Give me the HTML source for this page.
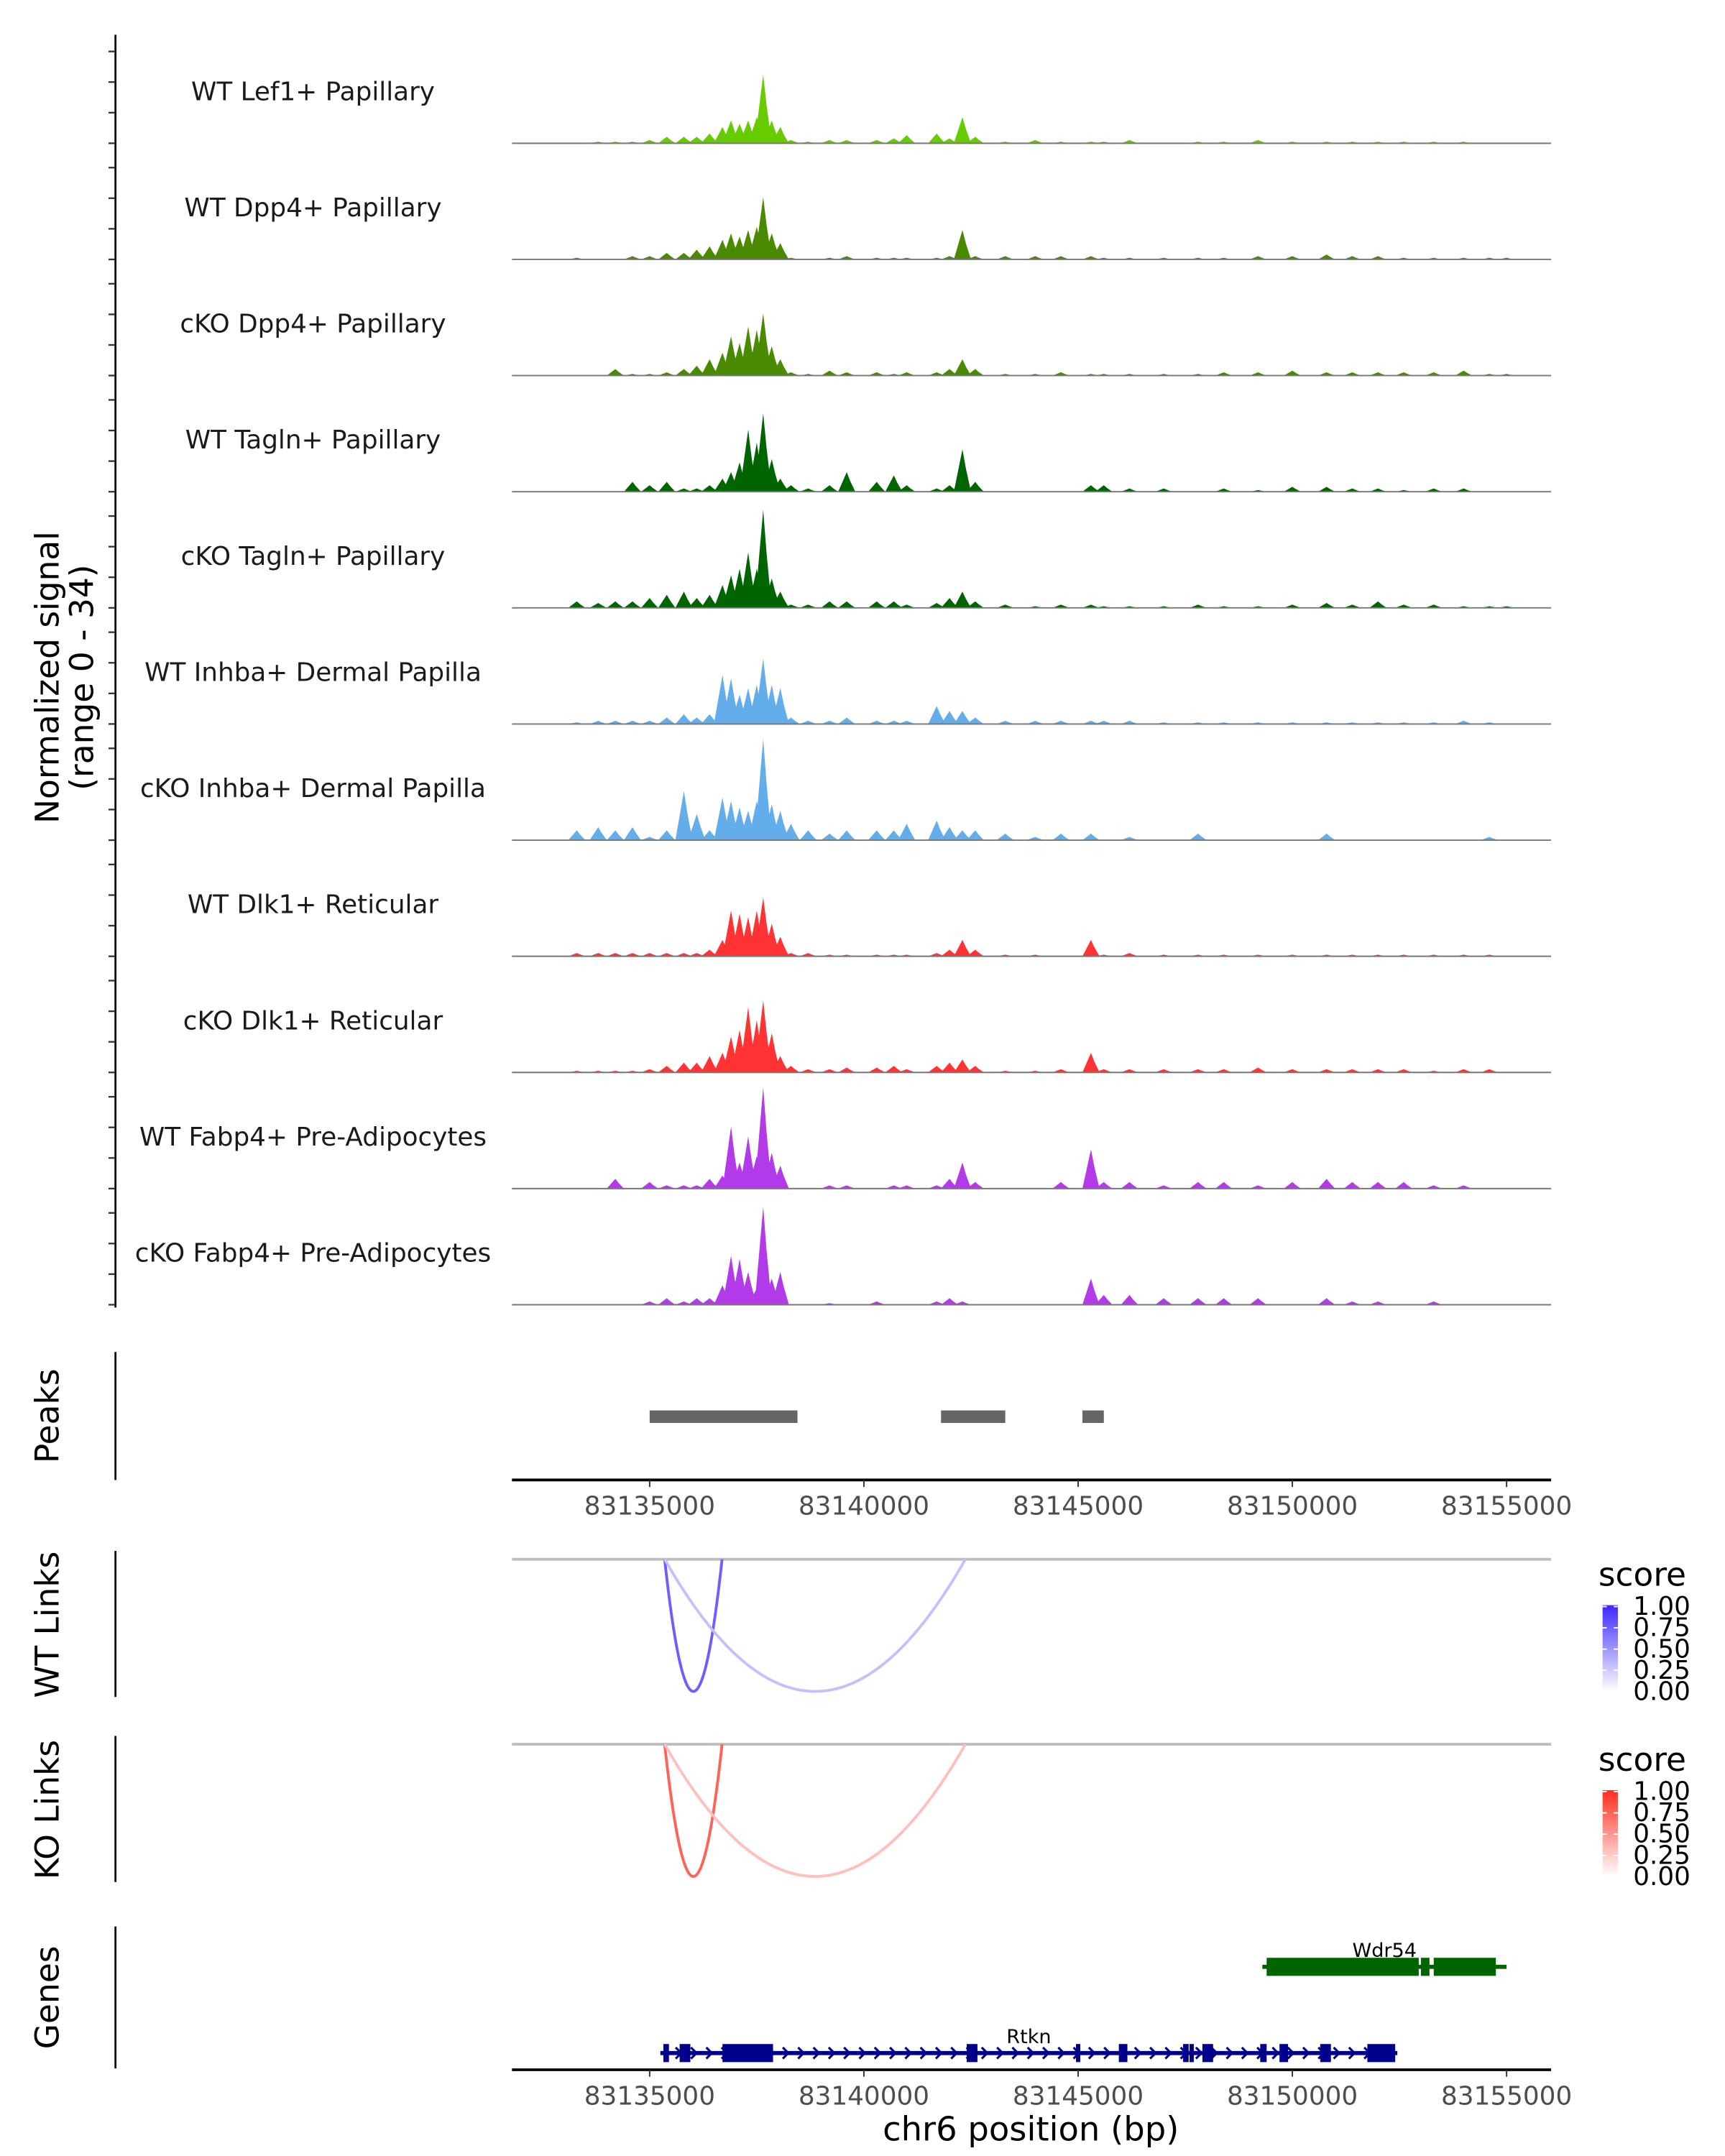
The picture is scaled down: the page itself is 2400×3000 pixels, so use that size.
<!DOCTYPE html>
<html><head><meta charset="utf-8"><style>
html,body{margin:0;padding:0;background:#fff;}
svg{display:block;font-family:"DejaVu Sans","Liberation Sans",sans-serif;}
</style></head><body>
<svg id="chart" width="2400" height="3000" viewBox="0 0 1240 1550" xmlns="http://www.w3.org/2000/svg"></svg>
<script>
// ---- data ----
const trackNames = ["WT Lef1+ Papillary","WT Dpp4+ Papillary","cKO Dpp4+ Papillary","WT Tagln+ Papillary","cKO Tagln+ Papillary","WT Inhba+ Dermal Papilla","cKO Inhba+ Dermal Papilla","WT Dlk1+ Reticular","cKO Dlk1+ Reticular","WT Fabp4+ Pre-Adipocytes","cKO Fabp4+ Pre-Adipocytes"];
const trackColors = ["#66cc00","#4a8a00","#4a8a00","#006400","#006400","#63aeea","#63aeea","#ff3333","#ff3333","#b23ae8","#b23ae8"];
// bin positions in kb offset from 83130000
const binPos = [3.3,3.8,4.2,4.6,5.0,5.4,5.8,6.1,6.4,6.7,6.9,7.1,7.3,7.5,7.65,7.85,8.05,8.3,8.7,9.2,9.6,10.3,10.7,11.0,11.7,12.0,12.3,12.6,13.3,14.0,14.6,15.3,15.6,16.2,17.0,17.8,18.4,19.2,20.0,20.8,21.4,22.0,22.6,23.3,24.0,24.6,25.0];
const valsLef1WT = [0,0.5,0.5,0.5,1,2,2,2,3,5,7,6,7,8,21,7,5,1,0.5,1,1,1,1.5,2.5,3,1.5,8,2,0.5,1,0.5,0.5,0.5,1,0,0.5,0.5,1,0.5,0.5,0.5,0.5,0.5,0.5,0.5,0,0];
const valsDpp4WT = [0.5,0,0,1,1,2,2,3,4,6,8,7,9,10,19,8,5,0.5,0,0.5,1,0.5,0.5,0.5,0.5,1,9,1,1,1,1,1,0.5,0.5,0.5,0.5,0.5,1,1,1.5,1,1,0.5,0.5,0.5,0.5,0.5];
const valsDpp4KO = [0,0,2,0.5,0.5,1,2,3,5,7,12,10,15,14,19,9,5,1,0.5,1.5,1,1,0.5,1,1,2,5,2,0.5,0.5,1,0.5,0.5,0.5,0.5,0.5,1,1,1.5,1,1,1,1,1,1.5,0.5,0.5];
const valsTaglnWT = [0,0,0,3,2,3,1,1,2,4,6,9,19,15,24,10,4,2,1,2,6,3,5,2,1,2,13,3,0,0,0,2,2,1,1,0,1,0.5,1.5,1.5,1,1,0.5,1,1,0,0];
const valsTaglnKO = [2,1.5,2,2,3,4,5,3,4,7,10,12,17,12,30,9,5,1,1,2,2,2,2,1,1.5,3,5,2,1,0.5,1,1,0.5,0.5,0.5,1,0.5,0.5,1,1.5,1,2,1,1,0.5,0.5,0.5];
const valsInhbaWT = [0.5,1,1,1,1,2,3,2,3,15,14,9,11,12,20,12,11,2,1,1,2,1,1,1,5.5,4,4,2,1,1,1,1,1,1,0.5,0.5,0.5,0.5,0.5,0.5,0.5,0.5,0.5,0.5,1,0.5,0];
const valsInhbaKO = [3,4,3,4,1,3,15,8,3,13,12,10,9,12,31,11,9,5,3,2,3,3,3,5,6,4,3,3,2,1,2,2,0,1,0,2,0,0,0,2,0,0,0,0,0,1,0];
const valsDlk1WT = [1,1,1,1,1,1,1,1,2,5,14,13,12,14,18,10,6,1,1,0.5,0.5,0.5,0.5,0.5,1,2,5,2,0.5,0.5,0,5,0.5,1,0.5,0.5,0.5,0.5,0.5,0.5,0.5,0.5,0.5,0.5,0.5,0.5,0];
const valsDlk1KO = [0.5,0.5,0.5,0.5,1,2,3,3,5,6,11,13,20,16,22,12,5,2,1,1,1.5,1.5,2,1,2,3,4,2,0.5,0.5,1,6,1,1,1,1,1,1.5,1,1,1,1,1,0.5,1,1,0];
const valsFabp4WT = [0,0,3,0,2,1,1,1,3,4,19,8,16,10,31,11,7,0,0,1,1,0,1,1,1,3,8,2,0,0,2,12,2,2,1,2,2,1,2,3,2,2,2,1,1,0,0];
const valsFabp4KO = [0,0,0,0,1,2,1,2,2,6,15,14,10,5,30,8,10,0,0,0.5,0,1,0,0,1,2,1,0,0,0,0,8,3,3,2,2,2,2,0,2,1,1,0,1,0,0,0];
const trackVals = [valsLef1WT,valsDpp4WT,valsDpp4KO,valsTaglnWT,valsTaglnKO,valsInhbaWT,valsInhbaKO,valsDlk1WT,valsDlk1KO,valsFabp4WT,valsFabp4KO];
const xTicks = [83135000,83140000,83145000,83150000,83155000];
const peakStarts = [83135000,83141800,83145100];
const peakEnds = [83138450,83143300,83145600];
const linkStarts = [83135350,83135350];
const linkEnds = [83136690,83142370];
const linkScores = [0.75,0.3];
const rtknExonStarts = [83135320,83135700,83136700,83142400,83144950,83145950,83147450,83147600,83147900,83149250,83149700,83150650,83151750];
const rtknExonEnds = [83135450,83135950,83137880,83142650,83145050,83146150,83147580,83147700,83148150,83149400,83149900,83150900,83152400];
const wdr54ExonStarts = [83149400,83153000,83153300];
const wdr54ExonEnds = [83152950,83153200,83154750];

// ---- scales ----
const NS="http://www.w3.org/2000/svg";
const svg=document.getElementById('chart');
const X0=368,X1=1115;
function xs(bp){return 467+(bp-83135000)*154/5000;}
function xk(kb){return xs(83130000+kb*1000);}
const baseline0=103, trackStep=83.5, pxPerUnit=2.35;
function ys(i,v){return baseline0+i*trackStep - v*pxPerUnit;}
function mk(tag,attrs,parent){const e=document.createElementNS(NS,tag);for(const k in attrs)e.setAttribute(k,attrs[k]);(parent||svg).appendChild(e);return e;}
function txt(s,attrs,parent){const e=mk('text',attrs,parent);e.textContent=s;return e;}

// ---- coverage axis ----
let g=mk('g',{});


mk('line',{x1:83,y1:25,x2:83,y2:940,stroke:'#000','stroke-width':1.4},g);
for(let i=0;i<trackNames.length;i++){
  for(let k=0;k<4;k++){
    const y=baseline0+i*trackStep-k*22;
    mk('line',{x1:78,y1:y,x2:83,y2:y,stroke:'#333','stroke-width':1.2},g);
  }
}
let t=txt('Normalized signal',{x:0,y:0,'font-size':23.5,'text-anchor':'middle',transform:'translate(42,487) rotate(-90)',fill:'#000'});


t=txt('(range 0 - 34)',{x:0,y:0,'font-size':23.5,'text-anchor':'middle',transform:'translate(67,487) rotate(-90)',fill:'#000'});



// ---- tracks ----
const hw=0.2;
for(let i=0;i<trackNames.length;i++){
  const tg=mk('g',{});
  
  
  const base=baseline0+i*trackStep;
  const vals=trackVals[i];
  let d='';
  for(let j=0;j<binPos.length;j++){
    const v=vals[j]; if(!v) continue;
    const p=binPos[j];
    d+='M'+xk(p-hw).toFixed(2)+','+base+' L'+xk(p-hw*0.4).toFixed(2)+','+ys(i,v*0.6).toFixed(2)+' L'+xk(p).toFixed(2)+','+ys(i,v).toFixed(2)+' L'+xk(p+hw*0.4).toFixed(2)+','+ys(i,v*0.55).toFixed(2)+' L'+xk(p+hw).toFixed(2)+','+base+' Z ';
  }
  const area=mk('path',{d:d,fill:trackColors[i]},tg);
  
  
  mk('line',{x1:X0,y1:base,x2:X1,y2:base,stroke:'#777','stroke-width':1},tg);
  const lab=txt(trackNames[i],{x:225,y:base-31,'font-size':18.5,'text-anchor':'middle',fill:'#1a1a1a'},tg);
  
  
}

// ---- peaks ----
g=mk('g',{});


mk('line',{x1:83,y1:972,x2:83,y2:1064,stroke:'#000','stroke-width':1.4},g);
t=txt('Peaks',{x:0,y:0,'font-size':23.5,'text-anchor':'middle',transform:'translate(42,1018) rotate(-90)'},g);


for(let i=0;i<peakStarts.length;i++){
  const r=mk('rect',{x:xs(peakStarts[i]),y:1014,width:xs(peakEnds[i])-xs(peakStarts[i]),height:9,fill:'#666'},g);
  
  
}
function xAxis(y,name){
  const a=mk('g',{});
  
  
  mk('line',{x1:X0,y1:y,x2:X1,y2:y,stroke:'#000','stroke-width':2},a);
  for(const v of xTicks){
    mk('line',{x1:xs(v),y1:y,x2:xs(v),y2:y+5,stroke:'#333','stroke-width':1},a);
    const tl=txt(String(v),{x:xs(v),y:y+25,'font-size':18.5,'text-anchor':'middle',fill:'#4d4d4d'},a);
    
    
  }
}
xAxis(1064,'peaks-x-axis');

// ---- links ----
function links(top,name,title,c0,c1,gradId){
  const lg=mk('g',{});
  
  
  mk('line',{x1:83,y1:top-6,x2:83,y2:top+99,stroke:'#000','stroke-width':1.4},lg);
  const tt=txt(title,{x:0,y:0,'font-size':23.5,'text-anchor':'middle',transform:'translate(42,'+(top+47)+') rotate(-90)'},lg);
  
  
  mk('line',{x1:X0,y1:top,x2:X1,y2:top,stroke:'#bebebe','stroke-width':2},lg);
  const bottom=top+95;
  for(let i=0;i<linkStarts.length;i++){
    const a=xs(linkStarts[i]),b=xs(linkEnds[i]);
    const s=linkScores[i];
    const col='rgb('+Math.round(c0[0]+(c1[0]-c0[0])*s)+','+Math.round(c0[1]+(c1[1]-c0[1])*s)+','+Math.round(c0[2]+(c1[2]-c0[2])*s)+')';
    const p=mk('path',{d:'M'+a+','+top+' Q'+((a+b)/2)+','+(2*bottom-top)+' '+b+','+top,fill:'none',stroke:col,'stroke-width':2},lg);
    
    
  }
  const leg=mk('g',{},lg);
  
  
  txt('score',{x:1149,y:top+19,'font-size':23.5,fill:'#000'},leg);
  const defs=mk('defs',{},leg);
  const gr=mk('linearGradient',{id:gradId,x1:0,y1:1,x2:0,y2:0},defs);
  mk('stop',{offset:0,'stop-color':'rgb('+c0.join(',')+')'},gr);
  mk('stop',{offset:1,'stop-color':'rgb('+c1.join(',')+')'},gr);
  mk('rect',{x:1152,y:top+33,width:11,height:62,fill:'url(#'+gradId+')'},leg);
  const lv=['1.00','0.75','0.50','0.25','0.00'];
  for(let k=0;k<5;k++){
    const yy=top+34+k*15.3;
    txt(lv[k],{x:1174,y:yy+6,'font-size':18.5,fill:'#000'},leg);
    mk('line',{x1:1152,y1:yy,x2:1155,y2:yy,stroke:'#fff'},leg);
    mk('line',{x1:1160,y1:yy,x2:1163,y2:yy,stroke:'#fff'},leg);
  }
}
links(1121,'wt-links-track','WT Links',[255,255,255],[60,40,255],'gradwt');
links(1254,'ko-links-track','KO Links',[255,255,255],[255,45,30],'gradko');

// ---- genes ----
g=mk('g',{});


mk('line',{x1:83,y1:1385,x2:83,y2:1487,stroke:'#000','stroke-width':1.4},g);
t=txt('Genes',{x:0,y:0,'font-size':23.5,'text-anchor':'middle',transform:'translate(42,1436) rotate(-90)'},g);


function gene(name,starts,ends,y,col,s,e,arrows){
  const gg=mk('g',{},g);
  
  
  mk('line',{x1:xs(s),y1:y,x2:xs(e),y2:y,stroke:col,'stroke-width':3},gg);
  if(arrows){
    for(let x=xs(s)+14;x<xs(e)-6;x+=11){
      mk('path',{d:'M'+(x-3)+','+(y-4)+' L'+(x+1)+','+y+' L'+(x-3)+','+(y+4),fill:'none',stroke:col,'stroke-width':1.6},gg);
    }
  }
  for(let i=0;i<starts.length;i++){
    mk('rect',{x:xs(starts[i]),y:y-6.5,width:Math.max(2.5,xs(ends[i])-xs(starts[i])),height:13,fill:col},gg);
  }
  const lb=txt(name,{x:xs((s+e)/2),y:y-7,'font-size':14,'text-anchor':'middle',fill:'#000'},gg);
  
  
}
gene('Wdr54',wdr54ExonStarts,wdr54ExonEnds,1414,'#006400',83149300,83155000,false);
gene('Rtkn',rtknExonStarts,rtknExonEnds,1476,'#00008b',83135250,83152450,true);
xAxis(1488,'genes-x-axis');
t=txt('chr6 position (bp)',{x:741,y:1539,'font-size':24,'text-anchor':'middle',fill:'#000'});


</script>
</body></html>
